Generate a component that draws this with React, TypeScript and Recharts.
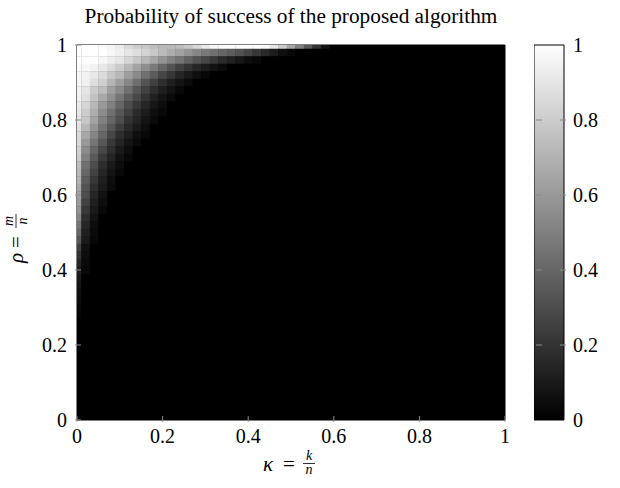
import { ScatterChart, Scatter, XAxis, YAxis, CartesianGrid, ReferenceArea, BarChart, Bar } from "recharts"

// grid of the simulation: kappa = k/n and rho = m/n, step 0.02
const KAPPA = Array.from({ length: 51 }, (_, i) => i / 50)
const RHO = Array.from({ length: 51 }, (_, i) => (50 - i) / 50)

const TICKS = [0, 0.2, 0.4, 0.6, 0.8, 1]

// success probability per rho row (rho = 1.00 first, going down),
// leading values for kappa = 0, 0.02, ... ; everything after is 0
const SUCCESS_ROWS: number[][] = [
  [1, 1, 1, 0.98, 0.96, 0.92, 0.85, 0.8, 0.78, 0.75, 0.72, 0.72, 0.74, 0.78, 0.85, 0.92, 0.97, 1, 1, 1, 1, 1, 0.98, 0.9, 0.8, 0.65, 0.5, 0.35, 0.2, 0.08],
  [1, 1, 1, 1, 0.97, 0.94, 0.9, 0.87, 0.83, 0.78, 0.73, 0.68, 0.63, 0.58, 0.53, 0.48, 0.44, 0.4, 0.36, 0.32, 0.27, 0.22, 0.16, 0.11, 0.06, 0.03],
  [1, 1, 1, 0.97, 0.93, 0.9, 0.84, 0.78, 0.72, 0.65, 0.58, 0.51, 0.45, 0.39, 0.33, 0.28, 0.22, 0.17, 0.13, 0.09, 0.05, 0.03],
  [0.98, 0.97, 0.95, 0.91, 0.86, 0.8, 0.72, 0.64, 0.56, 0.48, 0.4, 0.32, 0.26, 0.2, 0.15, 0.11, 0.07, 0.04],
  [0.97, 0.95, 0.91, 0.86, 0.78, 0.72, 0.62, 0.54, 0.44, 0.36, 0.28, 0.21, 0.15, 0.1, 0.06, 0.03],
  [0.96, 0.94, 0.87, 0.81, 0.71, 0.62, 0.53, 0.43, 0.33, 0.25, 0.18, 0.12, 0.08, 0.04],
  [0.95, 0.9, 0.8, 0.74, 0.62, 0.54, 0.44, 0.34, 0.26, 0.18, 0.12, 0.07, 0.03],
  [0.94, 0.88, 0.76, 0.66, 0.56, 0.46, 0.36, 0.28, 0.2, 0.13, 0.08, 0.04],
  [0.92, 0.84, 0.72, 0.6, 0.5, 0.4, 0.3, 0.22, 0.15, 0.09, 0.05],
  [0.9, 0.8, 0.68, 0.55, 0.44, 0.34, 0.25, 0.17, 0.11, 0.06, 0.03],
  [0.9, 0.78, 0.64, 0.5, 0.4, 0.3, 0.2, 0.14, 0.08, 0.04],
  [0.88, 0.72, 0.58, 0.45, 0.34, 0.24, 0.16, 0.1, 0.05],
  [0.86, 0.66, 0.52, 0.4, 0.28, 0.18, 0.12, 0.06, 0.03],
  [0.85, 0.6, 0.46, 0.34, 0.22, 0.14, 0.08, 0.04],
  [0.82, 0.55, 0.4, 0.28, 0.18, 0.1, 0.05],
  [0.8, 0.5, 0.35, 0.22, 0.14, 0.07, 0.03],
  [0.75, 0.44, 0.3, 0.18, 0.1, 0.05],
  [0.72, 0.4, 0.26, 0.15, 0.08, 0.03],
  [0.7, 0.36, 0.22, 0.12, 0.05],
  [0.66, 0.32, 0.18, 0.1, 0.04],
  [0.64, 0.3, 0.15, 0.07],
  [0.6, 0.26, 0.12, 0.05],
  [0.58, 0.22, 0.1, 0.03],
  [0.52, 0.18, 0.07],
  [0.46, 0.15, 0.05],
  [0.4, 0.12, 0.04],
  [0.34, 0.1, 0.03],
  [0.25, 0.06],
  [0.2, 0.05],
  [0.15, 0.04],
  [0.12, 0.03],
  [0.1],
  [0.08],
  [0.06],
  [0.05],
  [0.03],
  [0.02],
]

const cells = RHO.flatMap((r, ri) =>
  KAPPA.map((k, ki) => ({ k, r, p: (SUCCESS_ROWS[ri] || [])[ki] ?? 0 }))
)

const CB_DATA = [{ name: "cb", v: 1 }]

const SERIF = "'Liberation Serif', 'Times New Roman', serif"
const TICK_GRAY = "#8a8a8a"
const TXT = { fontFamily: SERIF }
const ITAL = { fontFamily: SERIF, fontStyle: "italic" as const }

const W = 620
const H = 488
const M = { top: 45, right: 115, bottom: 68, left: 77 }
const CELL_W = (W - M.left - M.right) / 50
const CELL_H = (H - M.top - M.bottom) / 50

function gray(p: number) {
  const g = Math.round(p * 255)
  return `rgb(${g},${g},${g})`
}

function Cell(props: any) {
  const { cx, cy, payload } = props
  let x = cx - CELL_W / 2
  let w = CELL_W + 0.4
  let y = cy - CELL_H / 2
  let h = CELL_H + 0.4
  if (payload.k === 0) { x = cx; w = CELL_W / 2 + 0.4 }
  if (payload.k === 1) { w = CELL_W / 2 }
  if (payload.r === 1) { y = cy; h = CELL_H / 2 + 0.4 }
  if (payload.r === 0) { h = CELL_H / 2 }
  return <rect x={x} y={y} width={w} height={h} fill={gray(payload.p)} />
}

function BottomTick({ x, y, payload }: any) {
  return (
    <g>
      <line x1={x} y1={y} x2={x} y2={y - 6} stroke={TICK_GRAY} />
      <text x={x} y={y + 21} textAnchor="middle" style={TXT} fontSize={20} fill="#000">
        {payload.value}
      </text>
    </g>
  )
}

function TopTick({ x, y }: any) {
  return <line x1={x} y1={y} x2={x} y2={y + 6} stroke={TICK_GRAY} />
}

function LeftTick({ x, y, payload }: any) {
  return (
    <g>
      <line x1={x} y1={y} x2={x + 6} y2={y} stroke={TICK_GRAY} />
      <text x={x - 8} y={y + 7} textAnchor="end" style={TXT} fontSize={20} fill="#000">
        {payload.value}
      </text>
    </g>
  )
}

function RightTick({ x, y }: any) {
  return <line x1={x} y1={y} x2={x - 6} y2={y} stroke={TICK_GRAY} />
}

function ColorbarTick({ x, y, payload }: any) {
  const inner = payload.value > 0 && payload.value < 1
  return (
    <g>
      {inner && <line x1={x - 30} y1={y} x2={x - 24} y2={y} stroke={TICK_GRAY} />}
      {inner && <line x1={x - 6} y1={y} x2={x} y2={y} stroke={TICK_GRAY} />}
      <text x={x + 7} y={y + 7} textAnchor="start" style={TXT} fontSize={20} fill="#000">
        {payload.value}
      </text>
    </g>
  )
}

function KappaLabel({ viewBox }: any) {
  const cx = viewBox.x + viewBox.width / 2
  return (
    <g fill="#000">
      <text x={cx - 23} y={471} textAnchor="middle" fontSize={21} style={ITAL}>κ</text>
      <text x={cx - 2} y={471} textAnchor="middle" fontSize={21} style={TXT}>=</text>
      <text x={cx + 18} y={460} textAnchor="middle" fontSize={14} style={ITAL}>k</text>
      <line x1={cx + 12} y1={463.5} x2={cx + 24} y2={463.5} stroke="#000" strokeWidth={0.8} />
      <text x={cx + 18} y={474} textAnchor="middle" fontSize={14} style={ITAL}>n</text>
    </g>
  )
}

function RhoLabel() {
  return (
    <g transform="translate(23, 240) rotate(-90)" fill="#000">
      <text x={-18} y={0} textAnchor="middle" fontSize={21} style={ITAL}>ρ</text>
      <text x={-2} y={0} textAnchor="middle" fontSize={21} style={TXT}>=</text>
      <text x={19} y={-10} textAnchor="middle" fontSize={14} style={ITAL}>m</text>
      <line x1={12} y1={-7} x2={26} y2={-7} stroke="#000" strokeWidth={0.8} />
      <text x={19} y={4} textAnchor="middle" fontSize={14} style={ITAL}>n</text>
    </g>
  )
}

export default function App() {
  return (
    <div style={{ position: "absolute", left: 0, top: 0, width: W, height: H, background: "#fff" }}>
      <div
        style={{
          position: "absolute",
          left: 0,
          top: 4,
          width: 582,
          textAlign: "center",
          fontFamily: SERIF,
          fontSize: 21.3,
          color: "#000",
        }}
      >
        Probability of success of the proposed algorithm
      </div>
      <div style={{ position: "absolute", left: 0, top: 0 }}>
        <ScatterChart width={W} height={H} margin={{ top: M.top, right: M.right, bottom: 0, left: 0 }}>
          <CartesianGrid fill="#000" stroke="none" />
          <XAxis
            xAxisId="b"
            dataKey="k"
            type="number"
            domain={[0, 1]}
            ticks={TICKS}
            height={M.bottom}
            axisLine={false}
            tickLine={false}
            tickSize={0}
            tick={<BottomTick />}
            interval={0}
            label={{ content: <KappaLabel /> }}
          />
          <XAxis
            xAxisId="t"
            dataKey="k"
            type="number"
            orientation="top"
            domain={[0, 1]}
            ticks={TICKS}
            height={0}
            axisLine={false}
            tickLine={false}
            tickSize={0}
            tick={<TopTick />}
            interval={0}
          />
          <YAxis
            yAxisId="l"
            dataKey="r"
            type="number"
            domain={[0, 1]}
            ticks={TICKS}
            width={M.left}
            axisLine={false}
            tickLine={false}
            tickSize={0}
            tick={<LeftTick />}
            interval={0}
            label={{ content: <RhoLabel /> }}
          />
          <YAxis
            yAxisId="r"
            dataKey="r"
            type="number"
            orientation="right"
            domain={[0, 1]}
            ticks={TICKS}
            width={0}
            axisLine={false}
            tickLine={false}
            tickSize={0}
            tick={<RightTick />}
            interval={0}
          />
          <Scatter
            data={cells}
            xAxisId="b"
            yAxisId="l"
            shape={<Cell />}
            isAnimationActive={false}
          />
          <ReferenceArea
            xAxisId="b"
            yAxisId="l"
            x1={0}
            x2={1}
            y1={0}
            y2={1}
            fill="none"
            stroke="#000"
            strokeWidth={1}
          />
        </ScatterChart>
      </div>
      <div style={{ position: "absolute", left: 534, top: 0 }}>
        <BarChart
          width={85}
          height={H}
          data={CB_DATA}
          margin={{ top: M.top, right: 0, bottom: M.bottom, left: 0 }}
          barCategoryGap={0}
        >
          <defs>
            <linearGradient id="cbar" x1="0" y1="0" x2="0" y2="1">
              <stop offset="0%" stopColor="#fff" />
              <stop offset="100%" stopColor="#000" />
            </linearGradient>
          </defs>
          <XAxis dataKey="name" hide />
          <YAxis
            orientation="right"
            type="number"
            domain={[0, 1]}
            ticks={TICKS}
            width={55}
            axisLine={false}
            tickLine={false}
            tickSize={0}
            tick={<ColorbarTick />}
            interval={0}
          />
          <Bar dataKey="v" fill="url(#cbar)" stroke="#000" strokeWidth={1} isAnimationActive={false} />
        </BarChart>
      </div>
    </div>
  )
}
